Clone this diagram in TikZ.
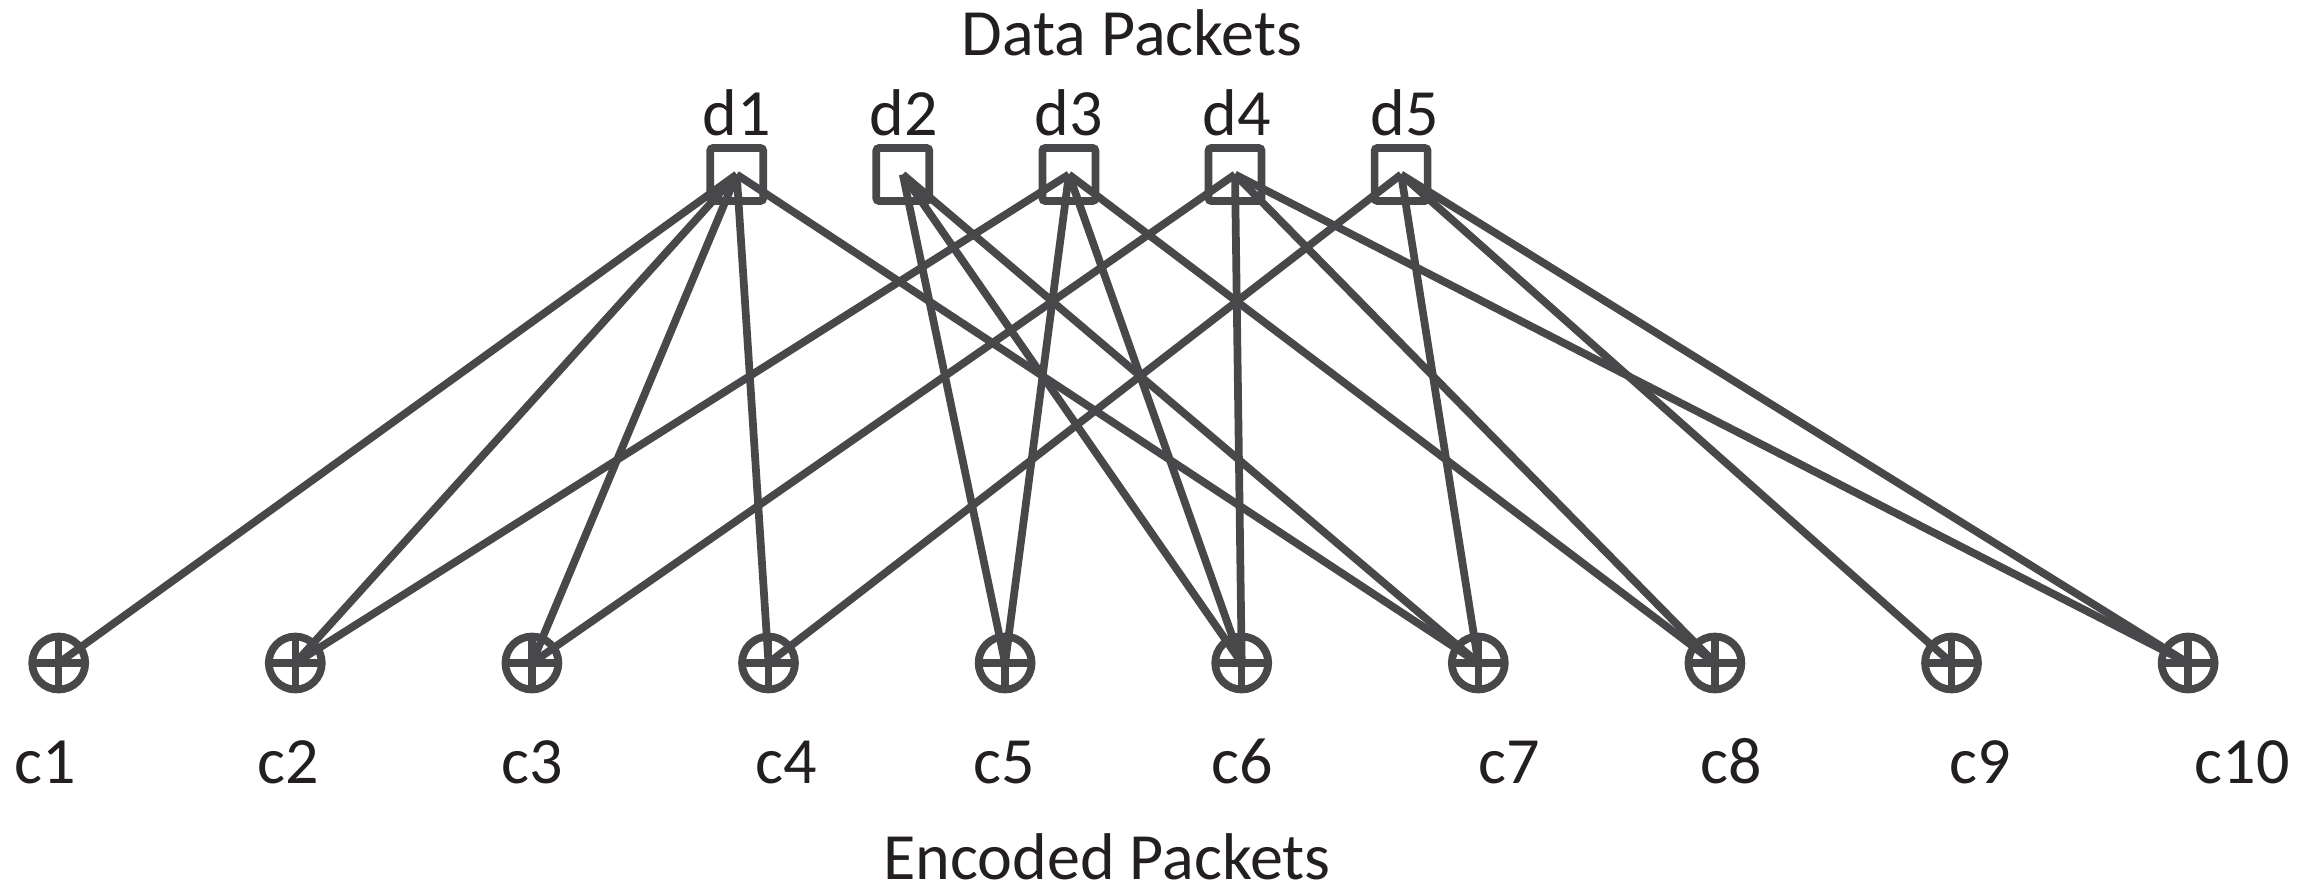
\documentclass[tikz,border=0pt]{standalone}
\usepackage{fontspec}
\setmainfont{Carlito}
\definecolor{linegray}{HTML}{48484A}
\definecolor{textblack}{HTML}{231F20}
\tikzset{
  datanode/.style={rectangle,draw=linegray,line width=2.2pt,minimum size=5.3mm,inner sep=0pt,rounded corners=0.8pt},
  codenode/.style={circle,draw=linegray,line width=2.2pt,minimum size=5.3mm,inner sep=0pt,
    path picture={\draw[linegray,line width=2.1pt] (path picture bounding box.north) -- (path picture bounding box.south)
      (path picture bounding box.west) -- (path picture bounding box.east);}},
  link/.style={draw=linegray,line width=2.2pt},
  txt/.style={text=textblack,anchor=base,inner sep=0pt,font=\fontsize{18.8}{22}\selectfont}
}
\begin{document}
\begin{tikzpicture}
   \useasboundingbox (0,0) rectangle (22.99,8.91);
   \node (datatitle) at (11.32,8.36) [txt] {Data Packets};
   \node (codetitle) at (11.07,0.12) [txt] {Encoded Packets};
   % data packets
   \node (d1) at (7.367,7.165) [datanode] {};
   \node (d2) at (9.028,7.165) [datanode] {};
   \node (d3) at (10.689,7.165) [datanode] {};
   \node (d4) at (12.350,7.165) [datanode] {};
   \node (d5) at (14.011,7.165) [datanode] {};
   \node (d1label) at (7.37,7.56) [txt] {d1};
   \node (d2label) at (9.04,7.56) [txt] {d2};
   \node (d3label) at (10.69,7.56) [txt] {d3};
   \node (d4label) at (12.37,7.56) [txt] {d4};
   \node (d5label) at (14.05,7.56) [txt] {d5};
   % encoded packets
   \node (c1) at (0.587,2.28) [codenode] {};
   \node (c2) at (2.953,2.28) [codenode] {};
   \node (c3) at (5.319,2.28) [codenode] {};
   \node (c4) at (7.685,2.28) [codenode] {};
   \node (c5) at (10.051,2.28) [codenode] {};
   \node (c6) at (12.417,2.28) [codenode] {};
   \node (c7) at (14.783,2.28) [codenode] {};
   \node (c8) at (17.149,2.28) [codenode] {};
   \node (c9) at (19.515,2.28) [codenode] {};
   \node (c10) at (21.881,2.28) [codenode] {};
   \node (c1label) at (0.45,1.08) [txt] {c1};
   \node (c2label) at (2.88,1.08) [txt] {c2};
   \node (c3label) at (5.32,1.08) [txt] {c3};
   \node (c4label) at (7.86,1.08) [txt] {c4};
   \node (c5label) at (10.04,1.08) [txt] {c5};
   \node (c6label) at (12.42,1.08) [txt] {c6};
   \node (c7label) at (15.09,1.08) [txt] {c7};
   \node (c8label) at (17.31,1.08) [txt] {c8};
   \node (c9label) at (19.80,1.08) [txt] {c9};
   \node (c10label) at (22.42,1.08) [txt] {c10};
   % connections
   \draw[link] (d1.center) -- (c1.center);
   \draw[link] (d1.center) -- (c2.center);
   \draw[link] (d1.center) -- (c3.center);
   \draw[link] (d1.center) -- (c4.center);
   \draw[link] (d1.center) -- (c7.center);
   \draw[link] (d2.center) -- (c5.center);
   \draw[link] (d2.center) -- (c6.center);
   \draw[link] (d2.center) -- (c7.center);
   \draw[link] (d3.center) -- (c2.center);
   \draw[link] (d3.center) -- (c5.center);
   \draw[link] (d3.center) -- (c6.center);
   \draw[link] (d3.center) -- (c8.center);
   \draw[link] (d4.center) -- (c3.center);
   \draw[link] (d4.center) -- (c6.center);
   \draw[link] (d4.center) -- (c8.center);
   \draw[link] (d4.center) -- (c10.center);
   \draw[link] (d5.center) -- (c4.center);
   \draw[link] (d5.center) -- (c7.center);
   \draw[link] (d5.center) -- (c9.center);
   \draw[link] (d5.center) -- (c10.center);
  \end{tikzpicture}
\end{document}
